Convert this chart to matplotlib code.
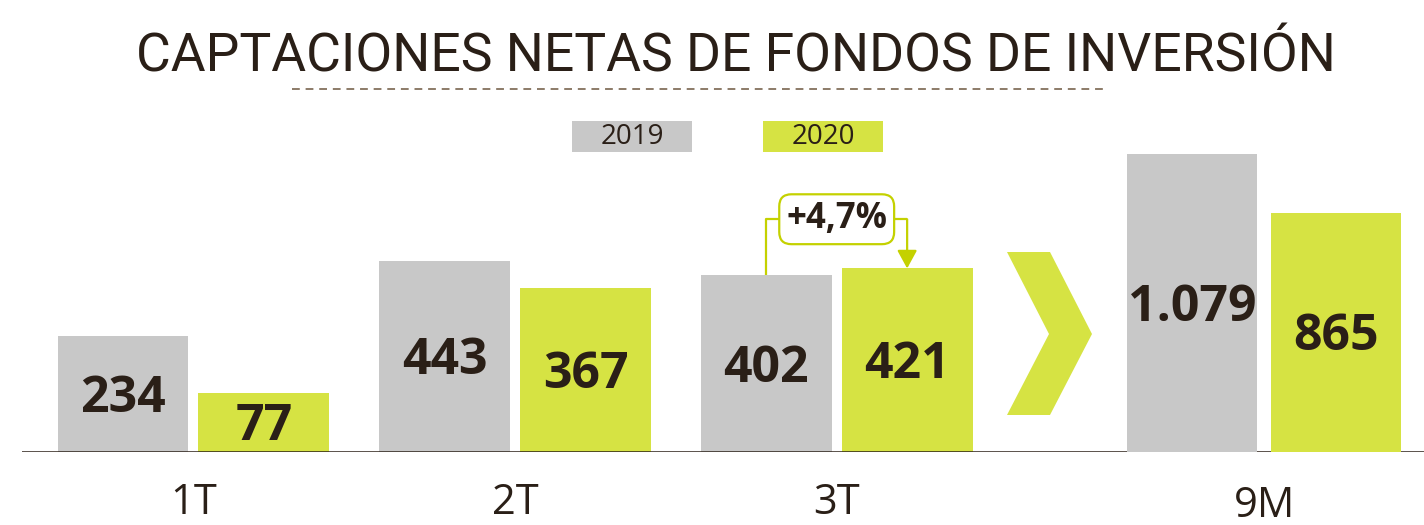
import matplotlib
matplotlib.use("Agg")
import matplotlib.pyplot as plt
from matplotlib.patches import Rectangle, Polygon
from matplotlib.lines import Line2D
import numpy as np

# data
title = "CAPTACIONES NETAS DE FONDOS DE INVERSIÓN"
series_names = ["2019", "2020"]
quarters = ["1T", "2T", "3T"]
q_2019 = [234, 443, 402]
q_2020 = [77, 367, 421]
total_label = "9M"
total_2019 = 1079
total_2020 = 865

# style
GRAY = "#c8c8c8"
GREEN = "#d6e343"
LINE_GREEN = "#c4d100"
DARK = "#2a1f17"
W, H = 1424, 525
BASE = -86  # visual offset used by the original infographic for the quarter bars

plt.rcParams["font.family"] = ["Open Sans", "DejaVu Sans"]

fig = plt.figure(figsize=(W / 100, H / 100), dpi=100)


def fx(px):
    return px / W


def fy(py):
    return 1 - py / H


def fmt(v):
    return f"{v:,}".replace(",", ".")


# quarter bars
ax = fig.add_axes([fx(22), fy(452), fx(W - 22), 452 / H])
x = np.arange(len(quarters))
off, bw = 0.219, 0.407
ax.bar(x - off, np.array(q_2019) - BASE, bottom=BASE, width=bw, color=GRAY, zorder=2)
ax.bar(x + off, np.array(q_2020) - BASE, bottom=BASE, width=bw, color=GREEN, zorder=2)
ax.set_xlim(-0.533, 3.826)
ax.set_ylim(BASE, BASE + 452 / 0.362)
ax.axhline(BASE, color=DARK, lw=1.8, zorder=3)
ax.axis("off")

for xs, vals in ((x - off, q_2019), (x + off, q_2020)):
    for xi, v in zip(xs, vals):
        ax.annotate(fmt(v), (xi, (v + BASE) / 2), xytext=(0, -3.5), textcoords="offset points",
                    ha="center", va="center", fontsize=36, fontweight="bold", color=DARK, zorder=4)

for xi, lab in zip(x, quarters):
    ax.annotate(lab, (xi, BASE), xytext=(0, -37), textcoords="offset points",
                ha="center", va="center", fontsize=30, color=DARK, annotation_clip=False)

# growth bracket for 3T
i = len(quarters) - 1
a, b = q_2019[i], q_2020[i]
level = max(a, b) + 136
pct = (b / a - 1) * 100
ax.plot([x[i] - off, x[i] - off, x[i] + off], [a, level, level], color=LINE_GREEN, lw=1.6,
        solid_capstyle="butt", zorder=3)
ax.annotate("", xy=(x[i] + off, b), xytext=(x[i] + off, level),
            arrowprops=dict(arrowstyle="-|>,head_length=0.55,head_width=0.3", color=LINE_GREEN,
                            lw=1.6, shrinkA=0, shrinkB=0, mutation_scale=20), zorder=3)
ax.text(x[i], level, f"+{pct:.1f}%".replace(".", ","), ha="center", va="center", fontsize=25,
        fontweight="bold", color=DARK, zorder=5,
        bbox=dict(boxstyle="round,pad=0.2,rounding_size=0.35", fc="white", ec=LINE_GREEN, lw=1.6))

# 9M bars
ax2 = fig.add_axes([fx(1100), fy(452), fx(W - 1100), 452 / H])
ax2.patch.set_alpha(0)
ax2.bar([0, 1], [total_2019, total_2020], width=0.9, color=[GRAY, GREEN], zorder=2)
ax2.set_xlim(-0.637, 1.606)
ax2.set_ylim(0, 452 / 0.2762)
ax2.axis("off")
for xi, v in zip([0, 1], [total_2019, total_2020]):
    ax2.annotate(fmt(v), (xi, v / 2), xytext=(0, -3.5), textcoords="offset points",
                 ha="center", va="center", fontsize=36, fontweight="bold", color=DARK)
ax2.annotate(total_label, (0.5, 0), xytext=(0, -39), textcoords="offset points",
             ha="center", va="center", fontsize=30, color=DARK, annotation_clip=False)

# chevron
chev = [(1007, 252), (1050, 252), (1092, 334), (1050, 415), (1007, 415), (1049, 334)]
fig.patches.append(Polygon([(fx(p), fy(q)) for p, q in chev], closed=True, fc=GREEN, ec="none",
                           transform=fig.transFigure, figure=fig))

# legend boxes
for (left, right), name, col in zip([(572, 692), (763, 883)], series_names, [GRAY, GREEN]):
    fig.patches.append(Rectangle((fx(left), fy(152)), fx(right - left), 31 / H, fc=col, ec="none",
                                 transform=fig.transFigure, figure=fig))
    fig.text(fx((left + right) / 2), fy(136.5), name, ha="center", va="center", fontsize=20, color=DARK)

# title and dashed rule
fig.text(fx(735.5), fy(72), title, ha="center", va="baseline", fontsize=38.5,
         color=DARK, family=["Roboto", "DejaVu Sans"])
fig.lines.append(Line2D([fx(292), fx(1105)], [fy(89), fy(89)], transform=fig.transFigure,
                        color="#8c7b68", lw=1.4, linestyle=(0, (4, 3))))

fig.savefig("out.png", dpi=100)
